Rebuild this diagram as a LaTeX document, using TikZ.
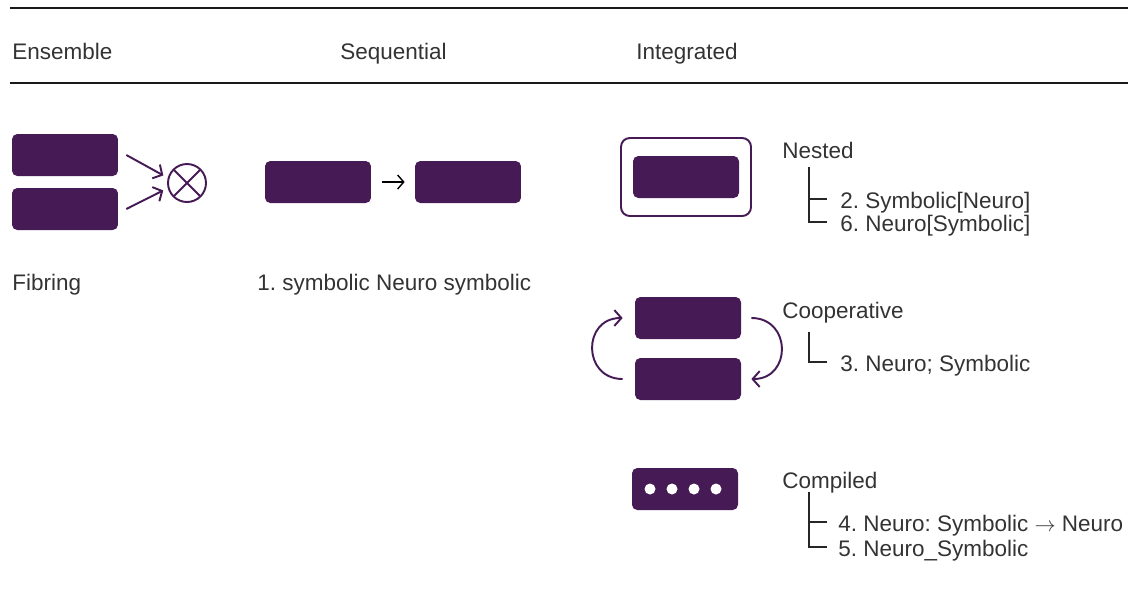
\documentclass[tikz,border=0pt]{standalone}
\usepackage{fontspec}
\setmainfont{Liberation Sans}
\usetikzlibrary{arrows.meta}
\definecolor{nspurple}{HTML}{461A55}
\definecolor{txtgray}{HTML}{333333}
\tikzset{
  block/.style={fill=nspurple, rounded corners=3pt, minimum width=2.12cm, minimum height=0.84cm, inner sep=0pt},
  frame/.style={draw=nspurple, line width=1.1pt, rounded corners=5pt, minimum width=2.6cm, minimum height=1.56cm, inner sep=0pt},
  lbl/.style={anchor=base west, inner sep=0pt, text=txtgray, font=\fontsize{12.8}{15}\selectfont},
  flow/.style={draw=nspurple, line width=1.1pt, -{Straight Barb[length=4pt,width=9pt]}},
  tree/.style={draw=black!85, line width=0.6pt},
  dot/.style={circle, fill=white, minimum size=0.22cm, inner sep=0pt}
}
\frenchspacing
\begin{document}
\begin{tikzpicture}[x=0.02cm,y=-0.02cm]
\useasboundingbox (0,0) rectangle (1135,600);
\draw[line width=1.1pt, black!90] (10,8) -- (1128,8);
\draw[line width=0.6pt, black!90] (10,83) -- (1128,83);
\node[lbl] (ens) at (12,59) {Ensemble};
\node[lbl] (seq) at (340,59) {Sequential};
\node[lbl] (int) at (636,59) {Integrated};

\node[block] (e1) at (65,155) {};
\node[block] (e2) at (65,209) {};
\node[circle, draw=nspurple, line width=1.1pt, minimum size=0.76cm, inner sep=0pt,
  path picture={\draw[nspurple, line width=1.1pt]
    (path picture bounding box.north west) -- (path picture bounding box.south east)
    (path picture bounding box.south west) -- (path picture bounding box.north east);}] (fuse) at (187,183) {};
\draw[flow, shorten >=0.1cm] ([xshift=0.16cm]e1.east) -- (fuse.165);
\draw[flow, shorten >=0.1cm] ([xshift=0.16cm]e2.east) -- (fuse.195);
\node[lbl] (fib) at (12,290) {Fibring};

\node[block] (s1) at (318,182) {};
\node[block] (s2) at (468,182) {};
\draw[black, line width=0.8pt, -{Straight Barb[length=3.5pt,width=8pt]}, shorten <=0.22cm, shorten >=0.2cm] (s1) -- (s2);
\node[lbl] (seqlbl) at (257,290) {1. symbolic Neuro symbolic};

\node[frame] (outer) at (686,177) {};
\node[block] (inner) at (686,177) {};
\node[lbl] (nest) at (782,158) {Nested};
\node[lbl] (n2) at (840,208) {2. Symbolic[Neuro]};
\node[lbl] (n6) at (840,231) {6. Neuro[Symbolic]};
\coordinate (nt) at (809,167);
\draw[tree] (nt) |- ([shift={(-13,-9)}]n2.base west);
\draw[tree] (nt) |- ([shift={(-13,-9)}]n6.base west);

\node[block] (c1) at (688,318) {};
\node[block] (c2) at (688,379) {};
\draw[flow] ([xshift=-0.24cm]c2.west) to[out=180, in=180, looseness=1.7] ([xshift=-0.24cm]c1.west);
\draw[flow] ([xshift=0.2cm]c1.east) to[out=0, in=0, looseness=1.7] ([xshift=0.2cm]c2.east);
\node[lbl] (coop) at (782,318) {Cooperative};
\node[lbl] (c3) at (840,371) {3. Neuro; Symbolic};
\coordinate (ct) at (809,332);
\draw[tree] (ct) |- ([shift={(-13,-9)}]c3.base west);

\node[block] (comp) at (685,489) {};
\foreach \dx in {650,672,694,716}
  \node[dot] (d\dx) at (\dx,489) {};
\node[lbl] (compl) at (782,488) {Compiled};
\node[lbl] (m4) at (838,531) {4. Neuro: Symbolic $\rightarrow$ Neuro};
\node[lbl] (m5) at (838,556) {5. Neuro\_Symbolic};
\coordinate (mt) at (809,492);
\draw[tree] (mt) |- ([shift={(-11,-9)}]m4.base west);
\draw[tree] (mt) |- ([shift={(-11,-9)}]m5.base west);
\end{tikzpicture}
\end{document}
